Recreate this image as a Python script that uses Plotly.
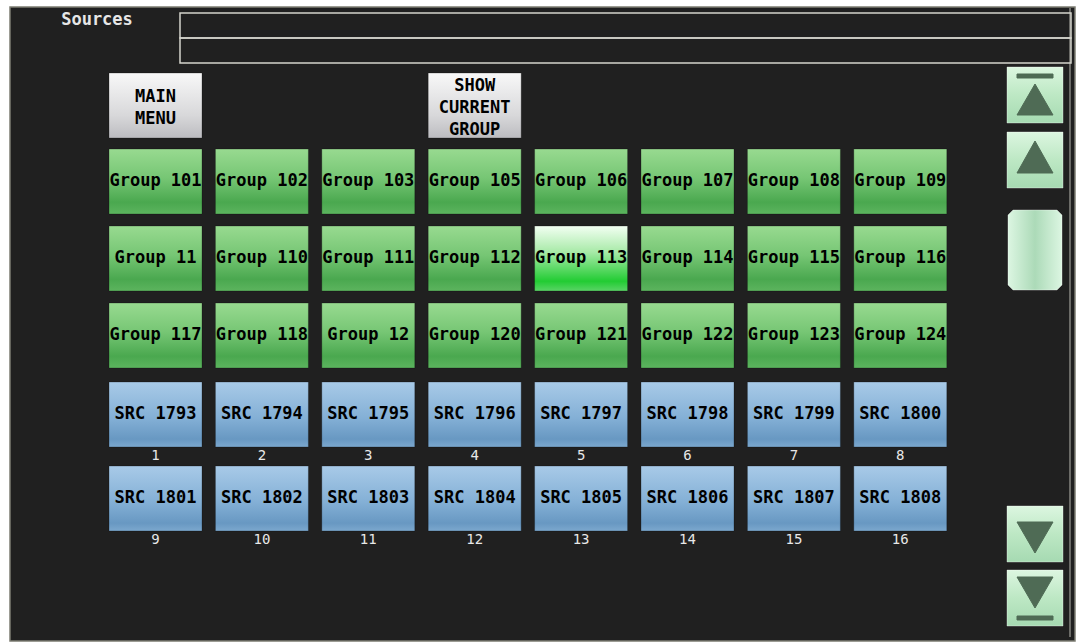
import plotly.graph_objects as go

W, H = 1076, 644

# labels on the panel
title_text = "Sources"
top_buttons = ["MAIN<br>MENU", "SHOW<br>CURRENT<br>GROUP"]
top_button_cols = [0, 3]
group_rows = [
    ["Group 101", "Group 102", "Group 103", "Group 105", "Group 106", "Group 107", "Group 108", "Group 109"],
    ["Group 11", "Group 110", "Group 111", "Group 112", "Group 113", "Group 114", "Group 115", "Group 116"],
    ["Group 117", "Group 118", "Group 12", "Group 120", "Group 121", "Group 122", "Group 123", "Group 124"],
]
src_rows = [
    ["SRC 1793", "SRC 1794", "SRC 1795", "SRC 1796", "SRC 1797", "SRC 1798", "SRC 1799", "SRC 1800"],
    ["SRC 1801", "SRC 1802", "SRC 1803", "SRC 1804", "SRC 1805", "SRC 1806", "SRC 1807", "SRC 1808"],
]
src_numbers = [
    [1, 2, 3, 4, 5, 6, 7, 8],
    [9, 10, 11, 12, 13, 14, 15, 16],
]
highlighted = "Group 113"

# geometry of the button grid (pixels)
COL_X0, COL_STEP, BTN_W, BTN_H = 109, 106.4, 93, 65
TOP_Y0 = 73
GROUP_Y0 = [149, 226, 303]
SRC_Y0 = [382, 466]

GREEN = [[0, "#98da90"], [0.45, "#76c674"], [0.82, "#4aa84f"], [1, "#5cb45e"]]
HILITE = [[0, "#f2fff2"], [0.4, "#a8eaa8"], [0.85, "#22cc33"], [1, "#5ad466"]]
BLUE = [[0, "#a8cae8"], [0.55, "#84b0d6"], [0.88, "#6898c2"], [1, "#7ca8ce"]]
GRAY = [[0, "#f8f8f8"], [0.65, "#d8d8da"], [1, "#bcbcc0"]]
MINT = [[0, "#dcf6e0"], [0.5, "#bde8c4"], [1, "#a6dab2"]]
THUMB = [[0, "#dcf6e2"], [0.5, "#acdab8"], [1, "#dcf6e2"]]
ARROW = "#4f6b55"
MONO = "DejaVu Sans Mono"

fig = go.Figure()


def box(x0, y0, w, h, scale, kind="vertical", edge="rgba(0,0,0,0.25)", cut=0):
    if cut:
        xs = [x0 + cut, x0 + w - cut, x0 + w, x0 + w, x0 + w - cut, x0 + cut, x0, x0, x0 + cut]
        ys = [y0, y0, y0 + cut, y0 + h - cut, y0 + h, y0 + h, y0 + h - cut, y0 + cut, y0]
    else:
        xs = [x0, x0 + w, x0 + w, x0, x0]
        ys = [y0, y0, y0 + h, y0 + h, y0]
    if kind == "vertical":
        grad = dict(type="vertical", start=y0, stop=y0 + h, colorscale=scale)
    else:
        grad = dict(type="horizontal", start=x0, stop=x0 + w, colorscale=scale)
    fig.add_trace(go.Scatter(
        x=xs, y=ys, mode="lines", fill="toself", fillgradient=grad,
        line=dict(width=1, color=edge), hoverinfo="skip", showlegend=False,
    ))


def poly(xs, ys, color):
    fig.add_trace(go.Scatter(
        x=xs, y=ys, mode="lines", fill="toself", fillcolor=color,
        line=dict(width=1, color=color), hoverinfo="skip", showlegend=False,
    ))


def col_x(i):
    return COL_X0 + i * COL_STEP


# top buttons
for lab, c in zip(top_buttons, top_button_cols):
    box(col_x(c), TOP_Y0, BTN_W, BTN_H, GRAY)

# group buttons
for r, row in enumerate(group_rows):
    for c, lab in enumerate(row):
        box(col_x(c), GROUP_Y0[r], BTN_W, BTN_H, HILITE if lab == highlighted else GREEN)

# source buttons
for r, row in enumerate(src_rows):
    for c, lab in enumerate(row):
        box(col_x(c), SRC_Y0[r], BTN_W, BTN_H, BLUE)

# scroll column
SX0, SW = 1007, 56
scroll_y0 = [67, 132, 506, 570]
for y0 in scroll_y0:
    box(SX0, y0, SW, SW, MINT, edge="rgba(255,255,255,0.35)")
box(SX0 + 1, 210, SW - 2, 80, THUMB, kind="horizontal", edge="rgba(255,255,255,0.35)", cut=5)

ax0, ax1, amid = SX0 + 10, SX0 + 46, SX0 + 28
# up to top
poly([ax0, ax1, ax1, ax0, ax0], [74, 74, 78, 78, 74], ARROW)
poly([amid, ax1, ax0, amid], [84, 115, 115, 84], ARROW)
# up
poly([amid, ax1, ax0, amid], [141, 173, 173, 141], ARROW)
# down
poly([ax0, ax1, amid, ax0], [522, 522, 553, 522], ARROW)
# down to bottom
poly([ax0, ax1, amid, ax0], [577, 577, 608, 577], ARROW)
poly([ax0, ax1, ax1, ax0, ax0], [616, 616, 620, 620, 616], ARROW)

# button captions
cx, cy, ct = [], [], []
for lab, c in zip(top_buttons, top_button_cols):
    cx.append(col_x(c) + BTN_W / 2)
    cy.append(TOP_Y0 + BTN_H / 2 + 3)
    ct.append(lab)
for r, row in enumerate(group_rows):
    for c, lab in enumerate(row):
        cx.append(col_x(c) + BTN_W / 2)
        cy.append(GROUP_Y0[r] + BTN_H / 2)
        ct.append(lab)
for r, row in enumerate(src_rows):
    for c, lab in enumerate(row):
        cx.append(col_x(c) + BTN_W / 2)
        cy.append(SRC_Y0[r] + BTN_H / 2)
        ct.append(lab)
fig.add_trace(go.Scatter(
    x=cx, y=cy, text=ct, mode="text", hoverinfo="skip", showlegend=False,
    textfont=dict(family=MONO, size=17, color="black", weight="bold"),
))

# numbers under source buttons
nx_, ny_, nt_ = [], [], []
for r, row in enumerate(src_numbers):
    for c, n in enumerate(row):
        nx_.append(col_x(c) + BTN_W / 2)
        ny_.append(SRC_Y0[r] + BTN_H + 9)
        nt_.append(str(n))
fig.add_trace(go.Scatter(
    x=nx_, y=ny_, text=nt_, mode="text", hoverinfo="skip", showlegend=False,
    textfont=dict(family=MONO, size=14, color="#e8e8e8"),
))

fig.add_trace(go.Scatter(
    x=[97], y=[21], text=[title_text], mode="text", hoverinfo="skip", showlegend=False,
    textfont=dict(family=MONO, size=17, color="#e6e6e6", weight="bold"),
))

shapes = [
    # panel
    dict(type="rect", x0=10, y0=7, x1=1075, y1=641, fillcolor="#202020",
         line=dict(color="#7c7c72", width=1.5), layer="below"),
    dict(type="line", x0=1070, y0=8, x1=1070, y1=637, line=dict(color="#b8b8b0", width=1)),
    # text field boxes
    dict(type="rect", x0=180, y0=13, x1=1071, y1=38, line=dict(color="#d4d4cc", width=1.5)),
    dict(type="rect", x0=180, y0=38, x1=1071, y1=63, line=dict(color="#d4d4cc", width=1.5)),
]

fig.update_layout(
    width=W, height=H,
    margin=dict(l=0, r=0, t=0, b=0),
    paper_bgcolor="white", plot_bgcolor="white",
    xaxis=dict(range=[0, W], visible=False, fixedrange=True),
    yaxis=dict(range=[H, 0], visible=False, fixedrange=True),
    shapes=shapes,
    showlegend=False,
)

fig.write_html(
    "out.html",
    config={"displayModeBar": False},
    post_script="document.body.style.margin='0';document.body.style.overflow='hidden';",
)
